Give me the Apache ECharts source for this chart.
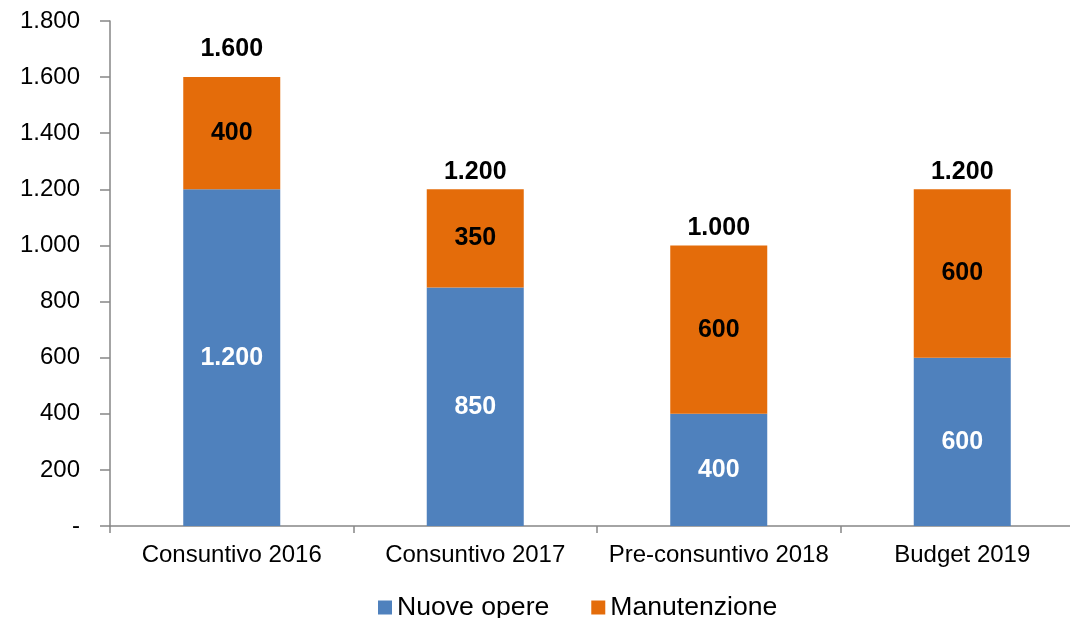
<!DOCTYPE html>
<html>
<head>
<meta charset="utf-8">
<script src="https://cdn.jsdelivr.net/npm/echarts@6/dist/echarts.min.js"></script>
<style>html,body{margin:0;padding:0;background:#fff}#c{width:1070px;height:618px}</style>
</head>
<body>
<div id="c"></div>
<script>
var categories = ['Consuntivo 2016', 'Consuntivo 2017', 'Pre-consuntivo 2018', 'Budget 2019'];
var nuoveOpere = [1200, 850, 400, 600];
var manutenzione = [400, 350, 600, 600];
var seriesNames = ['Nuove opere', 'Manutenzione'];
var yTicks = { min: 0, max: 1800, interval: 200 };

var totals = nuoveOpere.map(function (v, i) { return v + manutenzione[i]; });
function fmt(v) {
  if (v === 0) return '-';
  return String(v).replace(/\B(?=(\d{3})+(?!\d))/g, '.');
}
var FONT = '"Liberation Sans", Arial, sans-serif';
var chart = echarts.init(document.getElementById('c'), null, { renderer: 'canvas' });
chart.setOption({
  animation: false,
  backgroundColor: '#ffffff',
  textStyle: { fontFamily: FONT },
  grid: { left: 110, width: 974, top: 21, height: 505, containLabel: false, outerBoundsMode: 'none' },
  legend: {
    data: seriesNames,
    left: 373, top: 589,
    itemWidth: 14, itemHeight: 14, itemGap: 42,
    icon: 'rect',
    textStyle: { fontFamily: FONT, fontSize: 26.6, color: '#000' }
  },
  xAxis: {
    type: 'category',
    data: categories,
    axisLine: { lineStyle: { color: '#868686', width: 1.5 } },
    axisTick: { show: true, length: 7, lineStyle: { color: '#868686', width: 1.5 } },
    axisLabel: { interval: 0, fontFamily: FONT, fontSize: 24, color: '#000', margin: 17 },
    splitLine: { show: false }
  },
  yAxis: {
    type: 'value',
    min: yTicks.min, max: yTicks.max, interval: yTicks.interval,
    axisLine: { show: true, lineStyle: { color: '#868686', width: 1.5 } },
    axisTick: { show: true, length: 10, lineStyle: { color: '#868686', width: 1.5 } },
    axisLabel: { fontFamily: FONT, fontSize: 24, color: '#000', margin: 30, formatter: fmt },
    splitLine: { show: false }
  },
  series: [
    {
      name: seriesNames[0], type: 'bar', stack: 'tot', barWidth: 97,
      itemStyle: { color: '#4F81BD' },
      label: { show: true, position: 'inside', fontFamily: FONT, fontSize: 25, fontWeight: 'bold', color: '#fff', formatter: function (p) { return fmt(p.value); } },
      data: nuoveOpere
    },
    {
      name: seriesNames[1], type: 'bar', stack: 'tot', barWidth: 97,
      itemStyle: { color: '#E46C0A' },
      label: { show: true, position: 'inside', fontFamily: FONT, fontSize: 25, fontWeight: 'bold', color: '#000', formatter: function (p) { return fmt(p.value); } },
      data: manutenzione
    },
    {
      name: 'Totale', type: 'scatter', symbolSize: 0, silent: true,
      itemStyle: { opacity: 1, color: '#000' },
      label: { show: true, position: 'top', distance: 5, fontFamily: FONT, fontSize: 25, fontWeight: 'bold', color: '#000000', opacity: 1, formatter: function (p) { return fmt(p.value); } },
      data: totals.map(function (t, i) {
        return i === 0 ? { value: t, label: { distance: 16 } } : t;
      })
    }
  ]
});
</script>
</body>
</html>
